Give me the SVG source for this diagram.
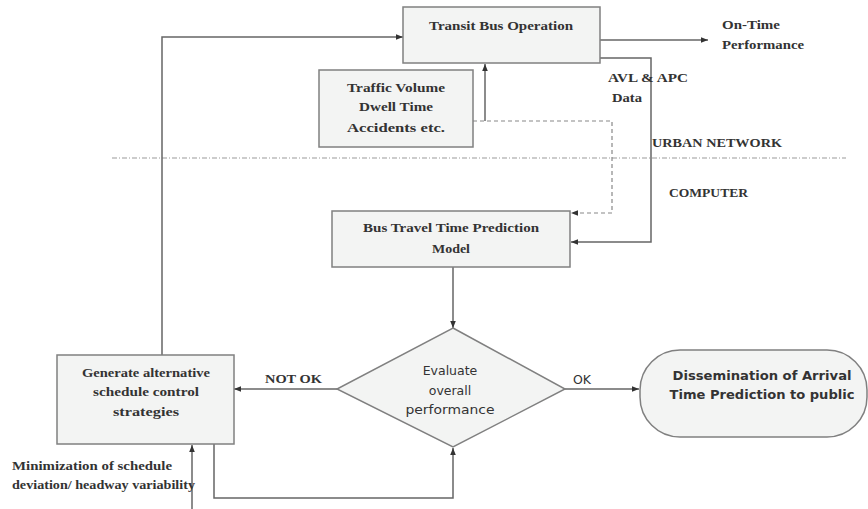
<svg xmlns="http://www.w3.org/2000/svg" width="868" height="509" viewBox="0 0 868 509">
<defs>
<marker id="ah" viewBox="0 0 10 10" refX="10" refY="5" markerWidth="7" markerHeight="7" markerUnits="userSpaceOnUse" orient="auto">
<path d="M0,1 L10,5 L0,9 z" fill="#333"/>
</marker>
</defs>
<style>
.box{fill:#f3f4f3;stroke:#808080;stroke-width:1.5}
.ln{fill:none;stroke:#666;stroke-width:1.5}
.dash{fill:none;stroke:#888;stroke-width:1.2;stroke-dasharray:4 3}
.dd{fill:none;stroke:#999;stroke-width:1.2;stroke-dasharray:5 2 1 2}
.t{font-family:"Liberation Serif","Times New Roman",serif;font-weight:bold;font-size:12.5px;fill:#333}
.s{font-family:"DejaVu Sans","Noto Sans",sans-serif;font-size:12.5px;fill:#333}
.sb{font-family:"DejaVu Sans","Noto Sans",sans-serif;font-weight:bold;font-size:12px;fill:#333}
.c{text-anchor:middle}
</style>
<rect width="868" height="509" fill="#fff"/>

<line class="dd" x1="112" y1="158" x2="846" y2="158"/>

<g id="connectors">
<polyline class="ln" points="162,355 162,37 403,37" marker-end="url(#ah)"/>
<line class="ln" x1="600" y1="40" x2="708" y2="40" marker-end="url(#ah)"/>
<line class="ln" x1="485" y1="121" x2="485" y2="64" marker-end="url(#ah)"/>
<polyline class="dash" points="473,121 612,121 612,213 571,213" marker-end="url(#ah)"/>
<polyline class="ln" points="600,58 651,58 651,242 571,242" marker-end="url(#ah)"/>
<line class="ln" x1="453" y1="267" x2="453" y2="328" marker-end="url(#ah)"/>
<line class="ln" x1="337" y1="389" x2="234" y2="389" marker-end="url(#ah)"/>
<line class="ln" x1="565" y1="389" x2="639" y2="389" marker-end="url(#ah)"/>
<polyline class="ln" points="214,444 214,498 453,498 453,448" marker-end="url(#ah)"/>
<line class="ln" x1="192" y1="509" x2="192" y2="445" marker-end="url(#ah)"/>
</g>

<g id="transit">
<rect class="box" x="403" y="7" width="197" height="56"/>
<text class="t c" x="501" y="30" textLength="144" lengthAdjust="spacingAndGlyphs">Transit Bus Operation</text>
</g>

<g id="traffic">
<rect class="box" x="319" y="70" width="154" height="77"/>
<text class="t c" x="396" y="92" textLength="98" lengthAdjust="spacingAndGlyphs">Traffic Volume</text>
<text class="t c" x="396" y="111" textLength="74" lengthAdjust="spacingAndGlyphs">Dwell Time</text>
<text class="t c" x="396" y="132" textLength="98" lengthAdjust="spacingAndGlyphs">Accidents etc.</text>
</g>

<g id="model">
<rect class="box" x="332" y="211" width="238" height="56"/>
<text class="t c" x="451" y="232" textLength="176" lengthAdjust="spacingAndGlyphs">Bus Travel Time Prediction</text>
<text class="t c" x="451" y="253" textLength="38" lengthAdjust="spacingAndGlyphs">Model</text>
</g>

<g id="evaluate">
<polygon class="box" points="453,328 565,389 453,447 337,389"/>
<text class="s c" x="450" y="375">Evaluate</text>
<text class="s c" x="450" y="395">overall</text>
<text class="s c" x="450" y="414" textLength="89" lengthAdjust="spacingAndGlyphs">performance</text>
</g>

<g id="generate">
<rect class="box" x="57" y="355" width="177" height="89"/>
<text class="t c" x="146" y="377" textLength="128" lengthAdjust="spacingAndGlyphs">Generate alternative</text>
<text class="t c" x="146" y="396" textLength="106" lengthAdjust="spacingAndGlyphs">schedule control</text>
<text class="t c" x="146" y="416" textLength="66" lengthAdjust="spacingAndGlyphs">strategies</text>
</g>

<g id="dissemination">
<rect class="box" x="640" y="350" width="227" height="87" rx="40" ry="40"/>
<text class="sb c" x="762" y="380" textLength="179" lengthAdjust="spacingAndGlyphs">Dissemination of Arrival</text>
<text class="sb c" x="762" y="399" textLength="185" lengthAdjust="spacingAndGlyphs">Time Prediction to public</text>
</g>

<g id="labels">
<text class="t" x="722" y="29" textLength="58" lengthAdjust="spacingAndGlyphs">On-Time</text>
<text class="t" x="722" y="49" textLength="82" lengthAdjust="spacingAndGlyphs">Performance</text>
<text class="t" x="608" y="82" textLength="80" lengthAdjust="spacingAndGlyphs">AVL &amp; APC</text>
<text class="t" x="612" y="102" textLength="30" lengthAdjust="spacingAndGlyphs">Data</text>
<text class="t" x="652" y="147" textLength="130" lengthAdjust="spacingAndGlyphs">URBAN NETWORK</text>
<text class="t" x="669" y="197" textLength="79" lengthAdjust="spacingAndGlyphs">COMPUTER</text>
<text class="t" x="265" y="383" textLength="57" lengthAdjust="spacingAndGlyphs">NOT OK</text>
<text class="s" x="573" y="384" font-size="11">OK</text>
<text class="t" x="12" y="470" textLength="160" lengthAdjust="spacingAndGlyphs">Minimization of schedule</text>
<text class="t" x="12" y="489" textLength="183" lengthAdjust="spacingAndGlyphs">deviation/ headway variability</text>
</g>
</svg>
